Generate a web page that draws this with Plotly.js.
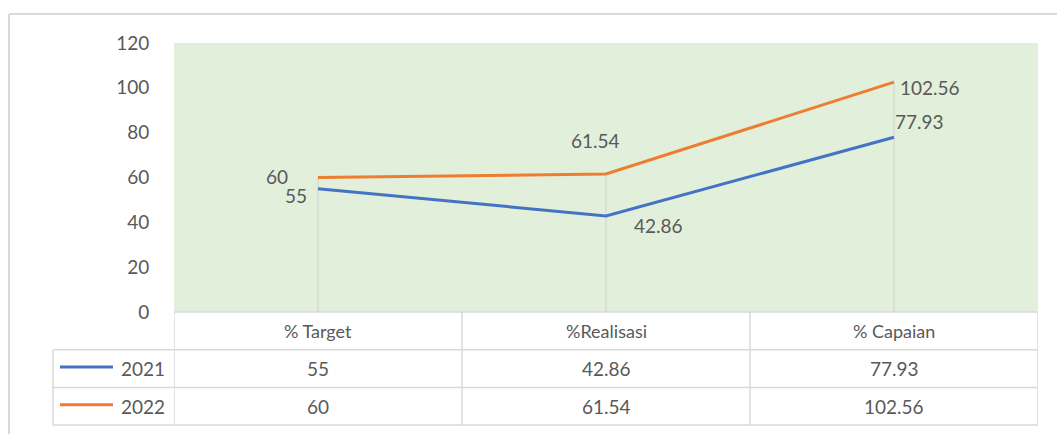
<!DOCTYPE html>
<html>
<head>
<meta charset="utf-8">
<script src="https://cdn.plot.ly/plotly-3.0.1.min.js"></script>
<style>
  html, body { margin: 0; padding: 0; background: #ffffff; }
  #chart { width: 1057px; height: 434px; }
</style>
</head>
<body>
<div id="chart"></div>
<script>
// ---- data ----
const categories = ['% Target', '%Realisasi', '% Capaian'];
const seriesNames = ['2021', '2022'];
const values2021 = [55, 42.86, 77.93];
const values2022 = [60, 61.54, 102.56];
const yTicks = [0, 20, 40, 60, 80, 100, 120];

// ---- style / layout ----
const W = 1057, H = 434;
const M = { l: 174, r: 19, t: 43, b: 122 };
const PW = W - M.l - M.r, PH = H - M.t - M.b;
const FONT = 'Lato, "Liberation Sans", Arial, sans-serif';
const TXT = '#595959';
const GRID = '#d9d9d9';
const COLORS = ['#4472C4', '#ED7D31'];
const FS = 19;

const px = x => (x - M.l) / PW;        // pixel x -> paper
const py = y => (M.t + PH - y) / PH;   // pixel y -> paper

const idx = categories.map((c, i) => i);
const series = [values2021, values2022];

// drop lines from the highest point in each category down to 0
const dropX = [], dropY = [];
idx.forEach(i => {
  const top = Math.max(values2021[i], values2022[i]);
  dropX.push(i, i, null);
  dropY.push(0, top, null);
});

const traces = [
  { x: dropX, y: dropY, mode: 'lines', type: 'scatter', hoverinfo: 'skip',
    line: { color: '#d0d0d0', width: 1 }, showlegend: false },
];
series.forEach((vals, s) => {
  traces.push({
    x: idx, y: vals, mode: 'lines', type: 'scatter', name: seriesNames[s],
    line: { color: COLORS[s], width: 3 }, showlegend: false
  });
});

// data label offsets (pixels), per series per point
const labelOffsets = [
  [[-22, -7], [52, -10], [25, 16]],
  [[-41, 1], [-11, 34], [36, -5]]
];

const annotations = [];
series.forEach((vals, s) => {
  vals.forEach((v, i) => {
    annotations.push({
      x: i, y: v, xref: 'x', yref: 'y', text: String(v), showarrow: false,
      xshift: labelOffsets[s][i][0], yshift: labelOffsets[s][i][1],
      font: { family: FONT, size: FS, color: TXT }
    });
  });
});

// data table
const rowTop = 312, rowH = 37.7;
const rowCenters = [rowTop + rowH * 0.5, rowTop + rowH * 1.5, rowTop + rowH * 2.5];
categories.forEach((c, i) => {
  annotations.push({
    x: i, y: py(rowCenters[0]), xref: 'x', yref: 'paper', text: c, showarrow: false,
    font: { family: FONT, size: FS - 1, color: TXT }, yanchor: 'middle'
  });
});
series.forEach((vals, s) => {
  vals.forEach((v, i) => {
    annotations.push({
      x: i, y: py(rowCenters[s + 1]), xref: 'x', yref: 'paper', text: String(v), showarrow: false,
      font: { family: FONT, size: FS, color: TXT }, yanchor: 'middle'
    });
  });
  annotations.push({
    x: px(167), y: py(rowCenters[s + 1]), xref: 'paper', yref: 'paper', text: seriesNames[s],
    xanchor: 'right', yanchor: 'middle', showarrow: false,
    font: { family: FONT, size: FS, color: TXT }
  });
});

const shapes = [];
const lineStyle = { color: GRID, width: 1.5 };
// outer chart border (top & left)
shapes.push({ type: 'line', xref: 'paper', yref: 'paper', x0: px(9), x1: px(W + 5), y0: py(14), y1: py(14), line: { color: '#d9d9d9', width: 2 } });
shapes.push({ type: 'line', xref: 'paper', yref: 'paper', x0: px(9), x1: px(9), y0: py(14), y1: py(H + 5), line: { color: '#d9d9d9', width: 2 } });
// table horizontal lines
const rowLines = [rowTop, rowTop + rowH, rowTop + 2 * rowH, rowTop + 3 * rowH];
rowLines.forEach((y, k) => {
  shapes.push({ type: 'line', xref: 'paper', yref: 'paper',
    x0: k === 0 ? 0 : px(53), x1: 1, y0: py(y), y1: py(y), line: lineStyle });
});
// table vertical lines at category boundaries
[-0.5, 0.5, 1.5, 2.5].forEach(b => {
  shapes.push({ type: 'line', xref: 'x', yref: 'paper', x0: b, x1: b,
    y0: py(rowLines[0]), y1: py(rowLines[3]), line: lineStyle });
});
// legend column left border
shapes.push({ type: 'line', xref: 'paper', yref: 'paper', x0: px(53), x1: px(53),
  y0: py(rowLines[1]), y1: py(rowLines[3]), line: lineStyle });
// legend keys
series.forEach((vals, s) => {
  const yc = rowCenters[s + 1] - 1.5;
  shapes.push({ type: 'line', xref: 'paper', yref: 'paper', x0: px(60), x1: px(113),
    y0: py(yc), y1: py(yc), line: { color: COLORS[s], width: 3 } });
});

const layout = {
  width: W, height: H,
  margin: M,
  paper_bgcolor: '#ffffff',
  plot_bgcolor: '#E2EFDA',
  showlegend: false,
  xaxis: {
    range: [-0.5, 2.5], showticklabels: false, showgrid: false, zeroline: false,
    showline: false, ticks: '', fixedrange: true
  },
  yaxis: {
    range: [0, 120], tickvals: yTicks, ticktext: yTicks.map(String),
    showgrid: false, zeroline: false, showline: false,
    ticks: 'outside', ticklen: 20, tickcolor: 'rgba(0,0,0,0)',
    tickfont: { family: FONT, size: FS, color: TXT }, fixedrange: true
  },
  annotations: annotations,
  shapes: shapes
};

Plotly.newPlot('chart', traces, layout, { displayModeBar: false, staticPlot: true });
</script>
</body>
</html>
